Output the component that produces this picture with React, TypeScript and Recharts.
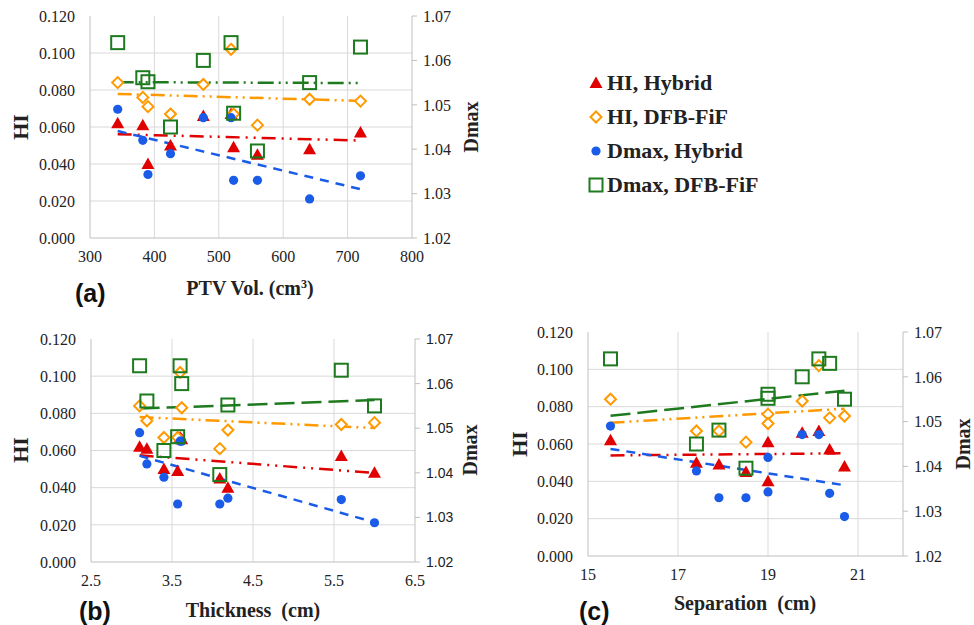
import React from 'react';
import { ScatterChart, Scatter, XAxis, YAxis, CartesianGrid } from 'recharts';

// Per-patient values (same patient order in every array)
const ptvVol = [343, 382, 390, 425, 476, 519, 523, 560, 641, 720];
const thickness = [3.1, 3.19, 4.19, 3.4, 3.62, 3.6, 3.57, 4.09, 6.0, 5.59];
const separation = [15.5, 19.0, 19.0, 17.41, 19.76, 20.13, 17.91, 18.51, 20.7, 20.37];
const hiHybrid = [0.062, 0.061, 0.040, 0.050, 0.066, 0.067, 0.049, 0.045, 0.048, 0.057];
const hiDfb = [0.084, 0.076, 0.071, 0.067, 0.083, 0.102, 0.067, 0.061, 0.075, 0.074];
const dmaxHybrid = [1.049, 1.042, 1.0343, 1.039, 1.0471, 1.0471, 1.033, 1.033, 1.0288, 1.034];
const dmaxDfb = [1.064, 1.0561, 1.0552, 1.045, 1.06, 1.064, 1.0481, 1.0396, 1.055, 1.063];

// Trend line end points
const trendXa = [343, 720];
const trendHiHa = [0.0561, 0.0527];
const trendHiDa = [0.0779, 0.0741];
const trendDmHa = [1.0441, 1.031];
const trendDmDa = [1.0551, 1.0549];

const trendXb = [3.1, 6.0];
const trendHiHb = [0.0574, 0.0479];
const trendHiDb = [0.078, 0.0721];
const trendDmHb = [1.0438, 1.0289];
const trendDmDb = [1.0544, 1.0563];

const trendXc = [15.5, 20.7];
const trendHiHc = [0.0539, 0.055];
const trendHiDc = [0.0714, 0.0789];
const trendDmHc = [1.0439, 1.0358];
const trendDmDc = [1.0513, 1.0569];

const hiTicks = [0, 0.02, 0.04, 0.06, 0.08, 0.1, 0.12];
const hiGrid = [0.02, 0.04, 0.06, 0.08, 0.1];
const dmTicks = [1.02, 1.03, 1.04, 1.05, 1.06, 1.07];
const volTicks = [300, 400, 500, 600, 700, 800];
const thickTicks = [2.5, 3.5, 4.5, 5.5, 6.5];
const sepTicks = [15, 17, 19, 21];

const RED = '#e00000';
const ORANGE = '#ff9900';
const BLUE = '#1a5ce8';
const GREEN = '#1e7a1e';
const GRID = '#d9d9d9';
const AXIS = '#bfbfbf';
const SERIF = '"Liberation Serif", "Times New Roman", serif';
const SANS = '"Liberation Sans", Arial, sans-serif';

const pts = (xs: number[], ys: number[]) => xs.map((x, i) => ({ x, y: ys[i] }));

const Triangle = (p: any) => (
  <path d={`M${p.cx},${p.cy - 6.5} L${p.cx + 6.5},${p.cy + 5} L${p.cx - 6.5},${p.cy + 5} Z`} fill={RED} />
);
const Diamond = (p: any) => (
  <path
    d={`M${p.cx},${p.cy - 5.5} L${p.cx + 5.5},${p.cy} L${p.cx},${p.cy + 5.5} L${p.cx - 5.5},${p.cy} Z`}
    fill="#fff"
    stroke={ORANGE}
    strokeWidth={2}
  />
);
const Dot = (p: any) => <circle cx={p.cx} cy={p.cy} r={4.6} fill={BLUE} />;
const Square = (p: any) => (
  <rect x={p.cx - 6.5} y={p.cy - 6.5} width={13} height={13} fill="none" stroke={GREEN} strokeWidth={2} />
);
const NoShape = () => <g />;

// tick renderers, so the font is exactly what we ask for
const makeTick = (anchor: 'start' | 'middle' | 'end', dy: string, font: string, size: number, fmt: (v: number) => string) =>
  (p: any) => (
    <text x={p.x} y={p.y} dy={dy} textAnchor={anchor} style={{ fontFamily: font, fontSize: size, fill: '#222' }}>
      {fmt(p.payload.value)}
    </text>
  );

interface PanelProps {
  width: number;
  height: number;
  plot: { l: number; r: number; t: number; b: number };
  xs: number[];
  xDomain: [number, number];
  xTicks: number[];
  gridX: number[];
  tx: number[];
  tHiH: number[];
  tHiD: number[];
  tDmH: number[];
  tDmD: number[];
  greenDash: string;
  rightFont: string;
  rightSize: number;
}

function Panel(props: PanelProps) {
  const { plot, xs } = props;
  return (
    <div style={{ position: 'absolute', left: 0, top: 0 }}>
      <ScatterChart
        width={props.width}
        height={props.height}
        margin={{ top: plot.t, right: 0, left: 0, bottom: 0 }}
      >
        <CartesianGrid yAxisId="hi" stroke={GRID} horizontalValues={hiGrid} verticalValues={props.gridX} />
        <XAxis
          type="number"
          dataKey="x"
          domain={props.xDomain}
          ticks={props.xTicks}
          allowDataOverflow
          height={props.height - plot.b}
          tickSize={0}
          tickMargin={13}
          stroke={AXIS}
          tick={makeTick('middle', '0.71em', SERIF, 16, (v) => String(v))}
        />
        <YAxis
          yAxisId="hi"
          type="number"
          dataKey="y"
          domain={[0, 0.12]}
          ticks={hiTicks}
          width={plot.l}
          tickSize={0}
          tickMargin={15}
          stroke={AXIS}
          tick={makeTick('end', '0.36em', SERIF, 16, (v) => v.toFixed(3))}
        />
        <YAxis
          yAxisId="dm"
          orientation="right"
          type="number"
          dataKey="y"
          domain={[1.02, 1.07]}
          ticks={dmTicks}
          width={props.width - plot.r}
          tickSize={5}
          tickMargin={6}
          stroke={AXIS}
          tick={makeTick('start', '0.36em', props.rightFont, props.rightSize, (v) => v.toFixed(2))}
        />
        <Scatter yAxisId="dm" data={pts(props.tx, props.tDmD)} shape={NoShape} isAnimationActive={false}
          line={{ stroke: GREEN, strokeWidth: 2.5, strokeDasharray: props.greenDash }} />
        <Scatter yAxisId="hi" data={pts(props.tx, props.tHiD)} shape={NoShape} isAnimationActive={false}
          line={{ stroke: ORANGE, strokeWidth: 2.5, strokeDasharray: '14 5 2 5 2 5' }} />
        <Scatter yAxisId="hi" data={pts(props.tx, props.tHiH)} shape={NoShape} isAnimationActive={false}
          line={{ stroke: RED, strokeWidth: 2.5, strokeDasharray: '14 6 2 6 2 6' }} />
        <Scatter yAxisId="dm" data={pts(props.tx, props.tDmH)} shape={NoShape} isAnimationActive={false}
          line={{ stroke: BLUE, strokeWidth: 2.5, strokeDasharray: '9 7' }} />
        <Scatter yAxisId="hi" data={pts(xs, hiHybrid)} shape={Triangle} isAnimationActive={false} />
        <Scatter yAxisId="hi" data={pts(xs, hiDfb)} shape={Diamond} isAnimationActive={false} />
        <Scatter yAxisId="dm" data={pts(xs, dmaxHybrid)} shape={Dot} isAnimationActive={false} />
        <Scatter yAxisId="dm" data={pts(xs, dmaxDfb)} shape={Square} isAnimationActive={false} />
      </ScatterChart>
    </div>
  );
}

const abs = (x: number, y: number, extra: React.CSSProperties = {}): React.CSSProperties => ({
  position: 'absolute',
  left: x,
  top: y,
  whiteSpace: 'nowrap',
  lineHeight: 1,
  ...extra,
});

const titleStyle: React.CSSProperties = { fontFamily: SERIF, fontWeight: 'bold', fontSize: 20, color: '#222' };
const tagStyle: React.CSSProperties = { fontFamily: SANS, fontWeight: 'bold', fontSize: 25, color: '#111' };

function VTitle({ x, y, text, size }: { x: number; y: number; text: string; size: number }) {
  return (
    <div style={abs(x, y, { ...titleStyle, fontSize: size, transform: 'translate(-50%, -50%) rotate(-90deg)' })}>
      {text}
    </div>
  );
}

function HTitle({ x, y, children }: { x: number; y: number; children: React.ReactNode }) {
  return <div style={abs(x, y, { ...titleStyle, transform: 'translate(-50%, -50%)' })}>{children}</div>;
}

const legendItems = [
  { label: 'HI, Hybrid', Shape: Triangle },
  { label: 'HI, DFB-FiF', Shape: Diamond },
  { label: 'Dmax, Hybrid', Shape: Dot },
  { label: 'Dmax, DFB-FiF', Shape: Square },
];

export default function App() {
  return (
    <div style={{ position: 'absolute', left: 0, top: 0, width: 974, height: 625, background: '#fff', overflow: 'hidden' }}>
      <Panel width={490} height={275} plot={{ l: 90, r: 412, t: 16, b: 238 }}
        xs={ptvVol} xDomain={[300, 800]} xTicks={volTicks} gridX={[400, 500, 600, 700]}
        tx={trendXa} tHiH={trendHiHa} tHiD={trendHiDa} tDmH={trendDmHa} tDmD={trendDmDa}
        greenDash="16 5 2 5 2 5" rightFont={SERIF} rightSize={16} />
      <Panel width={490} height={598} plot={{ l: 91, r: 415, t: 339, b: 562 }}
        xs={thickness} xDomain={[2.5, 6.5]} xTicks={thickTicks} gridX={[3.5, 4.5, 5.5]}
        tx={trendXb} tHiH={trendHiHb} tHiD={trendHiDb} tDmH={trendDmHb} tDmD={trendDmDb}
        greenDash="20 7" rightFont={SANS} rightSize={14} />
      <Panel width={974} height={592} plot={{ l: 588, r: 903, t: 332, b: 556 }}
        xs={separation} xDomain={[15, 22]} xTicks={sepTicks} gridX={[17, 19, 21]}
        tx={trendXc} tHiH={trendHiHc} tHiD={trendHiDc} tDmH={trendDmHc} tDmD={trendDmDc}
        greenDash="20 7" rightFont={SERIF} rightSize={16} />

      <VTitle x={21} y={127} text="HI" size={22} />
      <VTitle x={471} y={127} text="Dmax" size={20} />
      <HTitle x={250} y={288}>PTV Vol. (cm<sup style={{ fontSize: 12 }}>3</sup>)</HTitle>
      <div style={abs(75, 281, tagStyle)}>(a)</div>

      <VTitle x={21} y={450} text="HI" size={22} />
      <VTitle x={470} y={450} text="Dmax" size={20} />
      <HTitle x={253} y={610}>Thickness&nbsp; (cm)</HTitle>
      <div style={abs(79, 599, tagStyle)}>(b)</div>

      <VTitle x={520} y={444} text="HI" size={22} />
      <VTitle x={963} y={444} text="Dmax" size={20} />
      <HTitle x={745} y={603}>Separation&nbsp; (cm)</HTitle>
      <div style={abs(579, 599, tagStyle)}>(c)</div>

      {legendItems.map((item, i) => (
        <div key={item.label} style={abs(588, 72 + i * 34, { display: 'flex', alignItems: 'center' })}>
          <svg width={16} height={16} style={{ marginRight: 3 }}>
            <item.Shape cx={8} cy={8} />
          </svg>
          <span style={{ fontFamily: SERIF, fontWeight: 'bold', fontSize: 22, color: '#222' }}>{item.label}</span>
        </div>
      ))}
    </div>
  );
}
